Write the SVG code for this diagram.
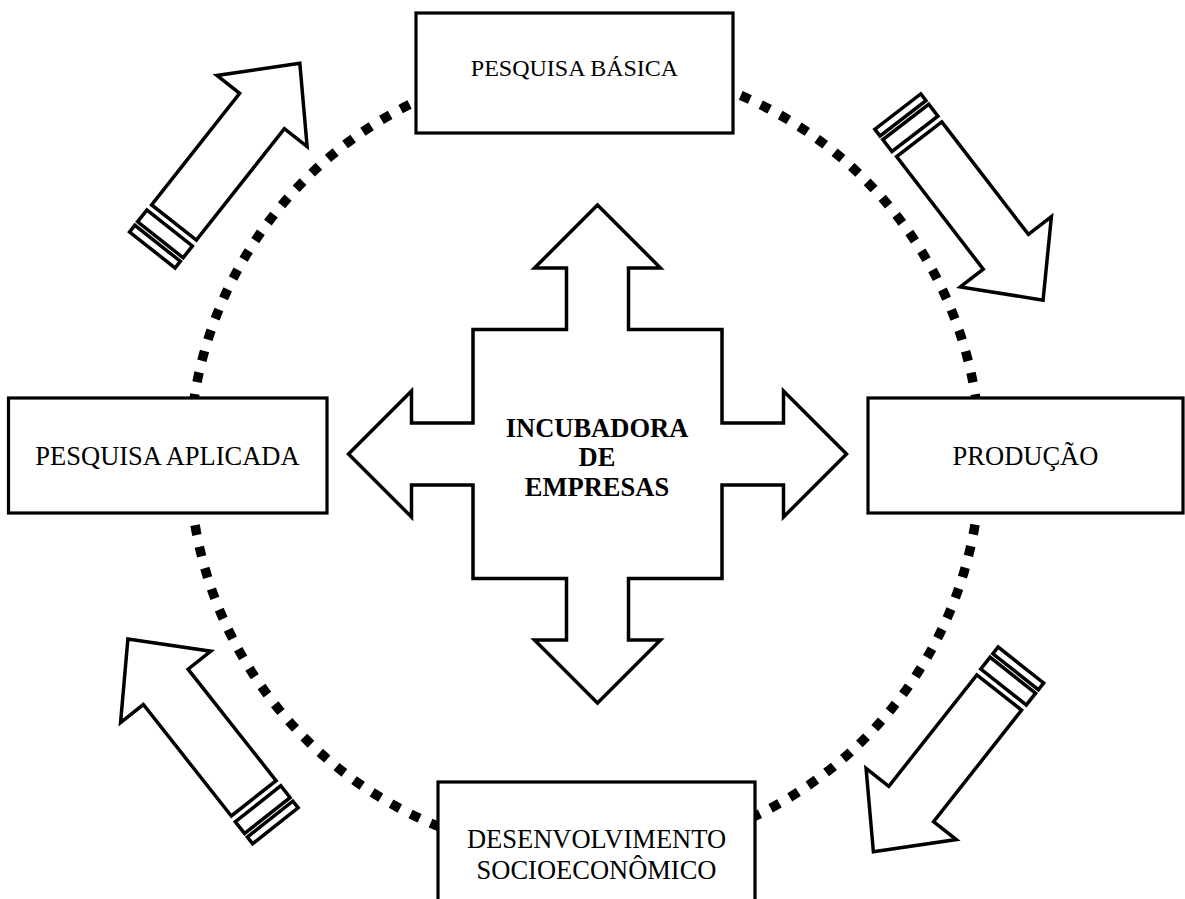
<svg xmlns="http://www.w3.org/2000/svg" xmlns:xlink="http://www.w3.org/1999/xlink" width="1185" height="899" viewBox="0 0 1185 899">
  <style>
    .box { fill: #fff; stroke: #000; stroke-width: 3.2; }
    .lbl { font-family: "Liberation Serif", "Times New Roman", serif; font-size: 26.5px; fill: #000; text-anchor: middle; }
    .bold { font-weight: bold; }
    .outline { fill: #fff; stroke: #000; stroke-width: 3.5; stroke-linejoin: miter; }
    .ring { fill: none; stroke: #000; stroke-width: 9.5; stroke-dasharray: 10 11.99; }
  </style>
  <defs>
    <g id="blockArrow">
      <path class="outline" d="M0,-28.5 L142,-28.5 L142,-57.5 L203,0 L142,57.5 L142,28.5 L0,28.5 Z"/>
      <rect class="outline" x="-22" y="-29" width="15" height="58" stroke-width="3"/>
      <rect class="outline" x="-35" y="-29" width="8.5" height="58" stroke-width="3"/>
    </g>
  </defs>
  <rect width="1185" height="899" fill="#fff"/>

  <g id="connectors">
    <circle class="ring" cx="585" cy="459" r="395.5"/>
    <use xlink:href="#blockArrow" href="#blockArrow" transform="translate(174,222.5) rotate(-51.7)"/>
    <use xlink:href="#blockArrow" href="#blockArrow" transform="translate(919.2,139.3) rotate(52.4)"/>
    <use xlink:href="#blockArrow" href="#blockArrow" transform="translate(253.7,798.3) rotate(-128.3)"/>
    <use xlink:href="#blockArrow" href="#blockArrow" transform="translate(999.2,692.5) rotate(128.3)"/>
  </g>

  <g id="node-incubadora">
    <path class="outline" d="M597.5,205 L660.5,268 L628.5,268 L628.5,329.5 L722,329.5 L722,423 L783.5,423 L783.5,391 L846.5,454 L783.5,517 L783.5,485 L722,485 L722,578.5 L628.5,578.5 L628.5,640 L660.5,640 L597.5,703 L534.5,640 L566.5,640 L566.5,578.5 L473,578.5 L473,485 L411.5,485 L411.5,517 L348.5,454 L411.5,391 L411.5,423 L473,423 L473,329.5 L566.5,329.5 L566.5,268 L534.5,268 Z"/>
    <text class="lbl bold" x="597" y="436.5">INCUBADORA</text>
    <text class="lbl bold" x="597" y="466">DE</text>
    <text class="lbl bold" x="597" y="495.5">EMPRESAS</text>
  </g>

  <g id="node-pesquisa-basica">
    <rect class="box" x="416" y="13" width="317" height="120"/>
    <text class="lbl" x="574.5" y="75.5" font-size="24" style="font-size:24px">PESQUISA BÁSICA</text>
  </g>

  <g id="node-pesquisa-aplicada">
    <rect class="box" x="8.5" y="398" width="318.5" height="115"/>
    <text class="lbl" x="167.5" y="465">PESQUISA APLICADA</text>
  </g>

  <g id="node-producao">
    <rect class="box" x="868" y="398" width="315" height="115"/>
    <text class="lbl" x="1025.5" y="465">PRODUÇÃO</text>
  </g>

  <g id="node-desenvolvimento">
    <rect class="box" x="438" y="782" width="317" height="140"/>
    <text class="lbl" x="596.5" y="848">DESENVOLVIMENTO</text>
    <text class="lbl" x="596.5" y="879">SOCIOECONÔMICO</text>
  </g>
</svg>
